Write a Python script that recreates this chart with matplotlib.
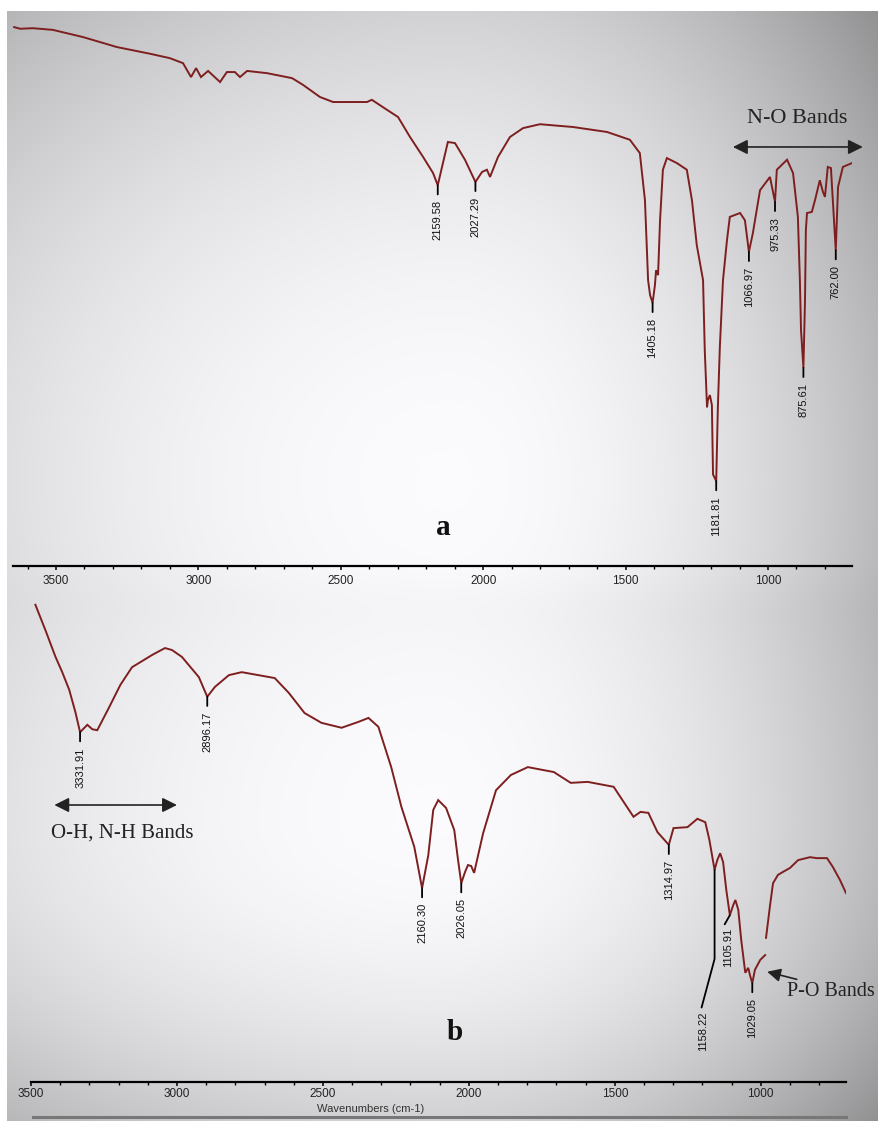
import numpy as np
import matplotlib
matplotlib.use("Agg")
import matplotlib.pyplot as plt
from matplotlib.ticker import MultipleLocator
from matplotlib.lines import Line2D

# ---------------- data ----------------
# Spectrum (a): wavenumber (cm-1) and transmittance (%)
wn_a = [3647, 3626, 3581, 3511, 3405, 3286, 3170, 3100, 3054, 3026, 3008, 2991,
        2966, 2924, 2900, 2872, 2854, 2829, 2759, 2671, 2633, 2573, 2527, 2408,
        2391, 2338, 2299, 2257, 2211, 2176, 2159.58, 2124, 2099, 2064, 2027.29,
        2004, 1987, 1976, 1948, 1906, 1860, 1801, 1685, 1565, 1485, 1450, 1432,
        1421, 1414, 1405.18, 1397, 1393, 1386, 1379, 1369, 1355, 1320, 1285,
        1267, 1250, 1228, 1222, 1214, 1211, 1204, 1197, 1193, 1181.81, 1176,
        1169, 1158, 1144, 1134, 1098, 1081, 1066.97, 1053, 1028, 993, 975.33,
        969, 933, 912, 895, 888, 884, 875.61, 870, 867, 863, 846, 835, 818, 807,
        800, 790, 779, 762.00, 754, 737, 705]
t_a = [97.1, 96.8, 96.9, 96.6, 95.3, 93.5, 92.3, 91.5, 90.6, 88.1, 89.7, 88.1,
       89.2, 87.2, 89.0, 89.0, 88.1, 89.2, 88.8, 87.9, 86.7, 84.5, 83.6, 83.6,
       84.0, 82.2, 80.9, 77.3, 73.7, 70.8, 68.6, 76.4, 76.2, 73.2, 69.2,
       71.0, 71.4, 70.1, 73.7, 77.3, 78.9, 79.6, 79.1, 78.2, 76.8, 74.4, 65.9,
       51.5, 48.8, 47.4, 50.6, 53.3, 52.4, 62.3, 71.4, 73.5, 72.6, 71.4,
       65.9, 57.8, 51.5, 38.9, 28.6, 29.9, 30.8, 29.0, 16.5, 15.3, 28.6,
       39.5, 51.5, 58.7, 62.9, 63.6, 62.3, 56.6, 60.0, 67.7, 70.1, 65.6,
       71.4, 73.2, 70.8, 62.9, 51.5, 42.5, 35.7, 47.9, 60.5, 63.6, 63.8, 65.9, 69.5, 67.4,
       66.5, 71.9, 71.7, 56.9, 68.3, 71.9, 72.6]
peaks_a = [2159.58, 2027.29, 1405.18, 1181.81, 1066.97, 975.33, 875.61, 762.00]

# Spectrum (b)
wn_b = [3485, 3451, 3416, 3393, 3369, 3348, 3331.91, 3307, 3290, 3273, 3232, 3194,
        3154, 3085, 3041, 3017, 2983, 2925, 2896.17, 2870, 2822, 2778, 2665, 2617,
        2563, 2505, 2436, 2378, 2344, 2310, 2266, 2231, 2187, 2160.30, 2139, 2122,
        2105, 2078, 2050, 2037, 2026.05, 2013, 2003, 1992, 1982, 1951, 1907, 1856,
        1798, 1709, 1651, 1593, 1504, 1436, 1412, 1385, 1354, 1314.97, 1299, 1251,
        1217, 1190, 1176, 1158.22, 1149, 1139, 1129, 1118, 1105.91, 1094, 1087,
        1077, 1067, 1053, 1043, 1036, 1029.05, 1020, 1002, 985, np.nan, 982, 968,
        958, 941, 924, 900, 872, 831, 808, 773, 753, 729, 708]
t_b = [97.0, 91.9, 86.4, 83.3, 79.7, 75.2, 71.1, 72.6, 71.7, 71.5, 76.2, 80.7,
       84.3, 86.8, 88.2, 87.8, 86.4, 82.3, 78.3, 80.3, 82.7, 83.3, 82.1, 79.1,
       75.0, 73.0, 72.0, 73.2, 74.0, 72.2, 64.0, 55.9, 47.8, 39.4, 46.1, 55.3,
       57.3, 55.7, 51.2, 45.1, 40.4, 42.7, 44.1, 43.9, 42.5, 50.6, 59.3, 62.4,
       64.0, 63.0, 60.8, 61.0, 60.0, 53.9, 54.9, 54.7, 50.8, 48.2, 51.6, 51.8,
       53.5, 52.8, 49.2, 43.1, 45.1, 46.5, 44.7, 39.0, 33.9, 36.0, 37.0,
       35.0, 28.9, 22.2, 23.2, 21.5, 20.1, 22.8, 24.8, 25.8, np.nan, 29.3, 36.0,
       40.4, 42.1, 42.7, 43.5, 45.1, 45.7, 45.5, 45.5, 43.7, 41.1, 38.4]
peaks_b = [3331.91, 2896.17, 2160.30, 2026.05, 1314.97, 1029.05]
peak_shoulder_b = 1158.22
peak_side_b = 1105.91

major_ticks = [3500, 3000, 2500, 2000, 1500, 1000]
tick_labels = ["3500", "3000", "2500", "2000", "1500", "1000"]

# ---------------- style ----------------
plt.rcParams["font.family"] = ["Liberation Sans Narrow", "Liberation Sans", "DejaVu Sans"]
SERIF = ["Liberation Serif", "DejaVu Serif"]
LINE_C = "#7e1f1f"
W, H = 879, 1121

fig = plt.figure(figsize=(W / 100, H / 100), dpi=100)
fig.patch.set_facecolor("white")

# gray vignette behind both spectra, blended smoothly between the panels
yy, xx = np.mgrid[0:H, 0:W].astype(float)


def vignette(cx, cy, rxl, rxr, ryu, ryd):
    rx = np.where(xx < cx, rxl, rxr)
    ry = np.where(yy < cy, ryu, ryd)
    r2 = ((xx - cx) / rx) ** 2 + ((yy - cy) / ry) ** 2
    return 0.985 - 0.2 * r2


wgt = np.clip((yy - 560) / 70.0, 0, 1)
wgt = wgt * wgt * (3 - 2 * wgt)
bg = (1 - wgt) * vignette(450, 480, 600, 380, 520, 520) + \
    wgt * vignette(430, 820, 600, 400, 600, 330)
bg = np.clip(bg, 0.5, 1.0)
bg[:11, :] = 1.0
bg[:, :7] = 1.0
rgb = np.dstack([bg, bg, np.clip(bg * 1.01, 0, 1)])
ax_bg = fig.add_axes([0, 0, 1, 1], zorder=0)
ax_bg.imshow(rgb, aspect="auto", interpolation="bilinear")
ax_bg.set_axis_off()


def px_rect(x0, x1, y0, y1):
    return [x0 / W, (H - y1) / H, (x1 - x0) / W, (y1 - y0) / H]


def style_axis(ax, xl, pad):
    ax.set_xlim(*xl)
    ax.set_ylim(0, 100)
    ax.patch.set_alpha(0)
    for s in ("left", "right", "top"):
        ax.spines[s].set_visible(False)
    ax.spines["bottom"].set_linewidth(1.6)
    ax.set_yticks([])
    ax.set_xticks(major_ticks)
    ax.set_xticklabels(tick_labels)
    ax.xaxis.set_minor_locator(MultipleLocator(100))
    ax.tick_params(axis="x", which="major", length=3, width=1.1, direction="out",
                   labelsize=8.5, labelcolor="#222222", pad=pad)
    ax.tick_params(axis="x", which="minor", length=2, width=1.0, direction="out")


def peak_labels(ax, wn, t, peaks, off_px=15):
    for p in peaks:
        i = int(np.nanargmin(np.abs(np.asarray(wn, float) - p)))
        ax.annotate(f"{p:.2f}", xy=(p, t[i]), xytext=(0, -off_px * 0.72),
                    textcoords="offset points", rotation=90, ha="center", va="top",
                    fontsize=8, color="#111111",
                    arrowprops=dict(arrowstyle="-", lw=1.3, color="black",
                                    shrinkA=2.2, shrinkB=0))


# ---------------- panel a ----------------
ax1 = fig.add_axes(px_rect(13, 852, 11, 566), zorder=1)
style_axis(ax1, (3651, 705), pad=3.6)
ax1.plot(wn_a, t_a, color=LINE_C, lw=1.4, solid_joinstyle="miter")
peak_labels(ax1, wn_a, t_a, peaks_a)
ax1.text(898, 80.7, "N-O Bands", ha="center", va="center", fontsize=16,
         family=SERIF, color="#222222")
ax1.annotate("", xy=(667, 75.5), xytext=(1123, 75.5), annotation_clip=False,
             arrowprops=dict(arrowstyle="<|-|>", mutation_scale=22, lw=1.2,
                             color="#222222", shrinkA=0, shrinkB=0))
ax1.text(2141, 7.0, "a", ha="center", va="center", fontsize=21,
         family=SERIF, weight="bold", color="#111111")

# ---------------- panel b ----------------
ax2 = fig.add_axes(px_rect(31, 846, 590, 1082), zorder=1)
style_axis(ax2, (3500, 708), pad=1.6)
ax2.plot(wn_b, t_b, color=LINE_C, lw=1.4, solid_joinstyle="miter")
peak_labels(ax2, wn_b, t_b, peaks_b)

i_sh = wn_b.index(peak_shoulder_b)
ax2.annotate(f"{peak_shoulder_b:.2f}", xy=(peak_shoulder_b, t_b[i_sh]),
             xytext=(-8, -102), textcoords="offset points", rotation=90,
             ha="center", va="top", fontsize=8, color="#111111",
             arrowprops=dict(arrowstyle="-", lw=1.3, color="black",
                             shrinkA=1, shrinkB=0, relpos=(0.2, 1.0),
                             connectionstyle="angle,angleA=75,angleB=90,rad=0"))
i_sd = wn_b.index(peak_side_b)
ax2.annotate(f"{peak_side_b:.2f}", xy=(peak_side_b, t_b[i_sd]),
             xytext=(-1.5, -9), textcoords="offset points", rotation=90,
             ha="center", va="top", fontsize=8, color="#111111",
             arrowprops=dict(arrowstyle="-", lw=1.3, color="black",
                             shrinkA=0.5, shrinkB=0, relpos=(0.0, 1.0)))

ax2.annotate("P-O Bands", xy=(978, 22.4), xytext=(910, 18.3),
             ha="left", va="center", fontsize=14.5, family=SERIF, color="#222222",
             annotation_clip=False,
             arrowprops=dict(arrowstyle="-|>", mutation_scale=20, lw=1.2,
                             color="#222222", shrinkA=1, shrinkB=0,
                             relpos=(0.25, 1.0)))
ax2.text(3188, 50.6, "O-H, N-H Bands", ha="center", va="center", fontsize=15,
         family=SERIF, color="#222222")
ax2.annotate("", xy=(3420, 56.3), xytext=(3000, 56.3),
             arrowprops=dict(arrowstyle="<|-|>", mutation_scale=22, lw=1.2,
                             color="#222222", shrinkA=0, shrinkB=0))
ax2.text(2050, 10.0, "b", ha="center", va="center", fontsize=21,
         family=SERIF, weight="bold", color="#111111")

fig.text(371 / W, (H - 1109) / H, "Wavenumbers (cm-1)", ha="center", va="center",
         fontsize=8, color="#333333")
fig.add_artist(Line2D([33 / W, 846 / W], [(H - 1117) / H] * 2, color="#777777",
                      lw=2.2, transform=fig.transFigure))

fig.savefig("out.png", dpi=100)
